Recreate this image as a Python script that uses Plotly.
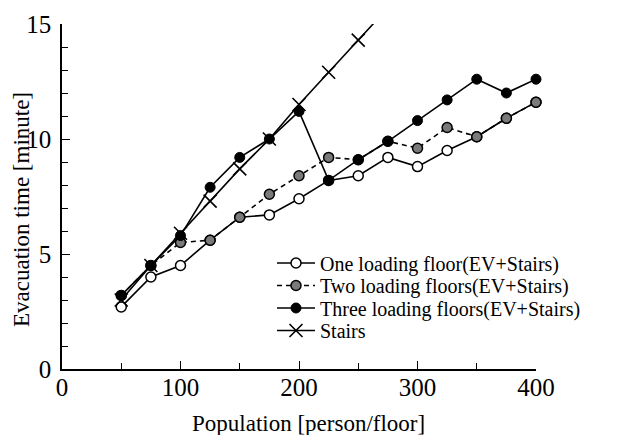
import plotly.graph_objects as go

population = [50, 75, 100, 125, 150, 175, 200, 225, 250, 275, 300, 325, 350, 375, 400]
one_floor = [2.7, 4.0, 4.5, 5.6, 6.6, 6.7, 7.4, 8.2, 8.4, 9.2, 8.8, 9.5, 10.1, 10.9, 11.6]
two_floors = [3.2, 4.5, 5.5, 5.6, 6.6, 7.6, 8.4, 9.2, 9.1, 9.9, 9.6, 10.5, 10.1, 10.9, 11.6]
three_floors = [3.2, 4.5, 5.8, 7.9, 9.2, 10.0, 11.2, 8.2, 9.1, 9.9, 10.8, 11.7, 12.6, 12.0, 12.6]
stairs_pop = [50, 75, 100, 125, 150, 175, 200, 225, 250, 275]
stairs = [3.0, 4.5, 5.9, 7.3, 8.7, 10.0, 11.5, 12.9, 14.3, 15.7]

FONT = "Liberation Serif"
# the page body has an 8px margin: the figure is drawn 8px right and down
OFF = 8
W, H = 619 - OFF, 435 - OFF
L, R, T, B = 62 - OFF, 83, 24 - OFF, 66
PW, PH = W - L - R, H - T - B


def px_to_paper_x(px):
    return (px - OFF - L) / PW


def px_to_paper_y(py):
    return (H - B - (py - OFF)) / PH


fig = go.Figure()
fig.add_trace(go.Scatter(
    x=population, y=one_floor, mode="lines+markers",
    name="One loading floor(EV+Stairs)", legend="legend",
    line=dict(color="black", width=1.6),
    marker=dict(symbol="circle", size=10, color="white", line=dict(color="black", width=1.5)),
    cliponaxis=False))
fig.add_trace(go.Scatter(
    x=population, y=two_floors, mode="lines+markers",
    name="Two loading floors(EV+Stairs)", legend="legend2",
    line=dict(color="black", width=1.6, dash="5px,4px"),
    marker=dict(symbol="circle", size=10, color="#7a7a7a", line=dict(color="black", width=1.5)),
    cliponaxis=False))
fig.add_trace(go.Scatter(
    x=population, y=three_floors, mode="lines+markers",
    name="Three loading floors(EV+Stairs)", legend="legend3",
    line=dict(color="black", width=1.6),
    marker=dict(symbol="circle", size=10, color="black", line=dict(color="black", width=1)),
    cliponaxis=False))
fig.add_trace(go.Scatter(
    x=stairs_pop, y=stairs, mode="lines+markers",
    name="Stairs", legend="legend4",
    line=dict(color="black", width=1.6),
    marker=dict(symbol="x-thin", size=13, color="black", line=dict(color="black", width=1.6)),
    cliponaxis=True))

row_centers = [263, 285.5, 308, 330.5]
legend_common = dict(xanchor="left", yanchor="middle",
                     font=dict(family=FONT, size=20, color="black"),
                     bgcolor="rgba(0,0,0,0)", borderwidth=0, itemwidth=38)
legends = {}
for i, yc in enumerate(row_centers):
    key = "legend" if i == 0 else f"legend{i + 1}"
    legends[key] = dict(x=px_to_paper_x(272), y=px_to_paper_y(yc), **legend_common)

fig.update_layout(
    width=W, height=H,
    margin=dict(l=L, r=R, t=T, b=B, autoexpand=False),
    paper_bgcolor="white", plot_bgcolor="white",
    font=dict(family=FONT, color="black"),
    showlegend=True,
    **legends,
    xaxis=dict(range=[0, 400], showgrid=False, zeroline=False, automargin=False,
               showline=True, linecolor="black", linewidth=1.6,
               ticks="inside", ticklen=8, tickwidth=1.4, tickcolor="black",
               dtick=100, tick0=0, ticklabelstandoff=-5,
               minor=dict(ticks="inside", dtick=50, ticklen=6, tickwidth=1.4, tickcolor="black"),
               tickfont=dict(family=FONT, size=25, color="black")),
    yaxis=dict(range=[0, 15], showgrid=False, zeroline=False, automargin=False,
               showline=True, linecolor="black", linewidth=1.6,
               ticks="inside", ticklen=8, tickwidth=1.4, tickcolor="black",
               dtick=5, tick0=0, ticklabelstandoff=4,
               minor=dict(ticks="inside", dtick=1, ticklen=6, tickwidth=1.4, tickcolor="black"),
               tickfont=dict(family=FONT, size=25, color="black")),
    annotations=[
        dict(text="Population [person/floor]", xref="paper", yref="paper",
             x=px_to_paper_x(308), y=px_to_paper_y(423), xanchor="center", yanchor="middle",
             showarrow=False, font=dict(family=FONT, size=23, color="black")),
        dict(text="Evacuation time [minute]", xref="paper", yref="paper",
             x=px_to_paper_x(21), y=px_to_paper_y(210), xanchor="center", yanchor="middle",
             textangle=-90,
             showarrow=False, font=dict(family=FONT, size=23, color="#000000")),
    ],
)

fig.write_html("out.html")
